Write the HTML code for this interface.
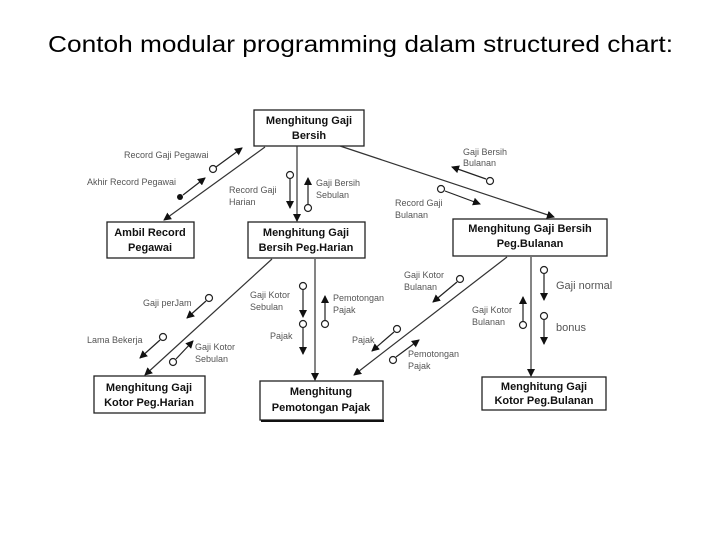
<!DOCTYPE html>
<html><head><meta charset="utf-8"><style>
html,body{margin:0;padding:0;background:#fff;width:720px;height:540px;overflow:hidden}
svg{display:block}
.b{font-family:"Liberation Sans",sans-serif;font-weight:bold;font-size:11px;fill:#111;text-anchor:middle}
.l{font-family:"Liberation Sans",sans-serif;font-size:9px;fill:#555}
</style></head><body>
<svg width="720" height="540" viewBox="0 0 720 540" xmlns="http://www.w3.org/2000/svg">
<defs>
<marker id="a" markerWidth="8" markerHeight="8" refX="7" refY="4" orient="auto" markerUnits="userSpaceOnUse"><path d="M0,0 L8,4 L0,8 z" fill="#111"/></marker>
</defs>
<text x="48" y="52" font-family="Liberation Sans, sans-serif" font-size="23" fill="#000" textLength="625" lengthAdjust="spacingAndGlyphs">Contoh modular programming dalam structured chart:</text>

<g stroke="#222" stroke-width="1.3" fill="#fff">
<rect x="254" y="110" width="110" height="36"/>
<rect x="107" y="222" width="87" height="36"/>
<rect x="248" y="222" width="117" height="36"/>
<rect x="453" y="219" width="154" height="37"/>
<rect x="94" y="376" width="111" height="37"/>
<rect x="260" y="381" width="123" height="39"/>
<rect x="482" y="377" width="124" height="33"/>
</g>
<line x1="261" y1="421" x2="384" y2="421" stroke="#111" stroke-width="2"/>

<g class="b">
<text x="309" y="124">Menghitung Gaji</text><text x="309" y="139">Bersih</text>
<text x="150" y="236">Ambil Record</text><text x="150" y="251">Pegawai</text>
<text x="306" y="236">Menghitung Gaji</text><text x="306" y="251">Bersih Peg.Harian</text>
<text x="530" y="232">Menghitung Gaji Bersih</text><text x="530" y="247">Peg.Bulanan</text>
<text x="149" y="391">Menghitung Gaji</text><text x="149" y="406">Kotor Peg.Harian</text>
<text x="321" y="395">Menghitung</text><text x="321" y="411">Pemotongan Pajak</text>
<text x="544" y="390">Menghitung Gaji</text><text x="544" y="404">Kotor Peg.Bulanan</text>
</g>

<g stroke="#333" stroke-width="1.2" fill="none" marker-end="url(#a)">
<line x1="265" y1="147" x2="164" y2="220"/>
<line x1="297" y1="146" x2="297" y2="221"/>
<line x1="340" y1="146" x2="554" y2="217"/>
<line x1="272" y1="259" x2="145" y2="375"/>
<line x1="315" y1="259" x2="315" y2="380"/>
<line x1="507" y1="257" x2="354" y2="375"/>
<line x1="531" y1="257" x2="531" y2="376"/>
</g>

<g stroke="#222" stroke-width="1.2" fill="none" marker-end="url(#a)">
<line x1="216" y1="167" x2="242" y2="148"/>
<line x1="183" y1="195" x2="205" y2="178"/>
<line x1="290" y1="179" x2="290" y2="208"/>
<line x1="308" y1="204" x2="308" y2="178"/>
<line x1="486" y1="179" x2="452" y2="167"/>
<line x1="445" y1="191" x2="480" y2="204"/>
<line x1="206" y1="301" x2="187" y2="318"/>
<line x1="160" y1="340" x2="140" y2="358"/>
<line x1="176" y1="359" x2="193" y2="341"/>
<line x1="303" y1="290" x2="303" y2="317"/>
<line x1="303" y1="328" x2="303" y2="354"/>
<line x1="325" y1="320" x2="325" y2="296"/>
<line x1="457" y1="282" x2="433" y2="302"/>
<line x1="394" y1="332" x2="372" y2="351"/>
<line x1="396" y1="357" x2="419" y2="340"/>
<line x1="523" y1="321" x2="523" y2="297"/>
<line x1="544" y1="274" x2="544" y2="300"/>
<line x1="544" y1="320" x2="544" y2="344"/>
</g>
<g stroke="#222" stroke-width="1.2" fill="#fff">
<circle cx="213" cy="169" r="3.5"/>
<circle cx="290" cy="175" r="3.5"/>
<circle cx="308" cy="208" r="3.5"/>
<circle cx="490" cy="181" r="3.5"/>
<circle cx="441" cy="189" r="3.5"/>
<circle cx="209" cy="298" r="3.5"/>
<circle cx="163" cy="337" r="3.5"/>
<circle cx="173" cy="362" r="3.5"/>
<circle cx="303" cy="286" r="3.5"/>
<circle cx="303" cy="324" r="3.5"/>
<circle cx="325" cy="324" r="3.5"/>
<circle cx="460" cy="279" r="3.5"/>
<circle cx="397" cy="329" r="3.5"/>
<circle cx="393" cy="360" r="3.5"/>
<circle cx="523" cy="325" r="3.5"/>
<circle cx="544" cy="270" r="3.5"/>
<circle cx="544" cy="316" r="3.5"/>
</g>
<circle cx="180" cy="197" r="3" fill="#111"/>

<g class="l">
<text x="124" y="158">Record Gaji Pegawai</text>
<text x="87" y="185">Akhir Record Pegawai</text>
<text x="229" y="193">Record Gaji</text><text x="229" y="205">Harian</text>
<text x="316" y="186">Gaji Bersih</text><text x="316" y="198">Sebulan</text>
<text x="463" y="155">Gaji Bersih</text><text x="463" y="166">Bulanan</text>
<text x="395" y="206">Record Gaji</text><text x="395" y="218">Bulanan</text>
<text x="143" y="306">Gaji perJam</text>
<text x="87" y="343">Lama Bekerja</text>
<text x="195" y="350">Gaji Kotor</text><text x="195" y="362">Sebulan</text>
<text x="250" y="298">Gaji Kotor</text><text x="250" y="310">Sebulan</text>
<text x="270" y="339">Pajak</text>
<text x="333" y="301">Pemotongan</text><text x="333" y="313">Pajak</text>
<text x="404" y="278">Gaji Kotor</text><text x="404" y="290">Bulanan</text>
<text x="352" y="343">Pajak</text>
<text x="408" y="357">Pemotongan</text><text x="408" y="369">Pajak</text>
<text x="472" y="313">Gaji Kotor</text><text x="472" y="325">Bulanan</text>
<text x="556" y="289" font-size="11">Gaji normal</text>
<text x="556" y="331" font-size="11">bonus</text>
</g>
</svg>
</body></html>
